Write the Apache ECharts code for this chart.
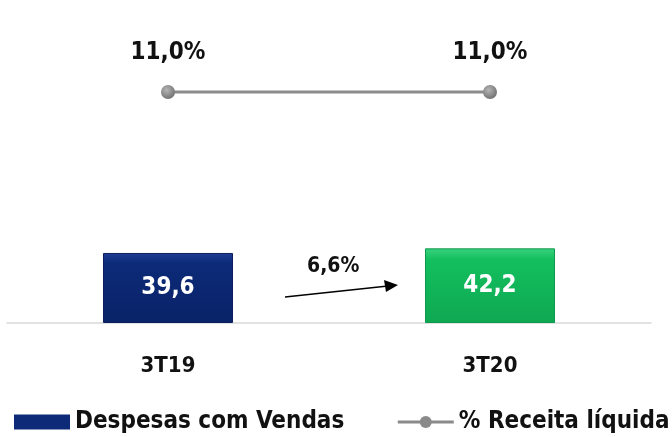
<!DOCTYPE html>
<html>
<head>
<meta charset="utf-8">
<script src="https://cdn.jsdelivr.net/npm/echarts@6/dist/echarts.min.js"></script>
<style>
    html, body { margin: 0; padding: 0; background: #fff; }
    #chart { width: 672px; height: 437px; }
</style>
</head>
<body>
<div id="chart"></div>
<script>
var categories = ['3T19', '3T20'];
var despesas = [39.6, 42.2];
var receitaPct = [11.0, 11.0];
var growthLabel = '6,6%';

(function () {
    'use strict';
    var myChart = echarts.init(document.getElementById('chart'));
    var font = '"DejaVu Sans Condensed", "DejaVu Sans", sans-serif';

    function fmt(v, suffix) {
        return v.toFixed(1).replace('.', ',') + (suffix || '');
    }

    var barColors = [
        new echarts.graphic.LinearGradient(0, 0, 0, 1, [
            { offset: 0, color: '#1d3c94' },
            { offset: 0.15, color: '#0c2a78' },
            { offset: 1, color: '#0a2368' }
        ]),
        new echarts.graphic.LinearGradient(0, 0, 0, 1, [
            { offset: 0, color: '#3ad27e' },
            { offset: 0.15, color: '#13bf5e' },
            { offset: 1, color: '#0fa852' }
        ])
    ];
    var barBorders = ['#0a1f5c', '#0d9a4a'];

    var option = {
        animation: false,
        grid: { left: 7, right: 21, top: 40, bottom: 114 },
        legend: {
            bottom: 3,
            left: 14,
            width: 720,
            padding: 0,
            itemGap: 52,
            itemWidth: 56,
            itemHeight: 15,
            textStyle: { fontFamily: font, fontSize: 24, fontWeight: 700, color: '#111' },
            data: [
                { name: 'Despesas com Vendas', icon: 'rect', itemStyle: { color: '#0c2a78' } },
                { name: '% Receita líquida', itemStyle: { color: '#8a8a8a' }, lineStyle: { color: '#8a8a8a', width: 3 } }
            ]
        },
        xAxis: {
            type: 'category',
            data: categories,
            axisTick: { show: false },
            axisLine: { lineStyle: { color: '#d9d9d9', width: 1.5 } },
            axisLabel: { margin: 32, fontFamily: font, fontSize: 22, fontWeight: 700, color: '#111' }
        },
        yAxis: [
            { type: 'value', min: 0, max: 160, show: false },
            { type: 'value', min: 0, max: 13.48, show: false }
        ],
        series: [{
            name: 'Despesas com Vendas',
            type: 'bar',
            barWidth: 130,
            data: despesas.map(function (v, i) {
                return { value: v, itemStyle: { color: barColors[i], borderColor: barBorders[i], borderWidth: 1 } };
            }),
            label: {
                show: true,
                position: 'inside',
                fontFamily: font,
                fontSize: 24,
                fontWeight: 700,
                color: '#fff',
                formatter: function (p) { return fmt(p.value); }
            }
        }, {
            name: '% Receita líquida',
            type: 'line',
            yAxisIndex: 1,
            data: receitaPct,
            symbol: 'circle',
            symbolSize: 14,
            lineStyle: { color: '#8c8c8c', width: 3 },
            itemStyle: {
                color: new echarts.graphic.RadialGradient(0.4, 0.35, 0.7, [
                    { offset: 0, color: '#b5b5b5' },
                    { offset: 1, color: '#6e6e6e' }
                ])
            },
            label: {
                show: true,
                position: 'top',
                distance: 20,
                fontFamily: font,
                fontSize: 24,
                fontWeight: 700,
                color: '#111',
                formatter: function (p) { return fmt(p.value, '%'); }
            }
        }],
        graphic: [{
            type: 'line',
            shape: { x1: 285, y1: 297, x2: 388, y2: 286 },
            style: { stroke: '#000', lineWidth: 1.5 }
        }, {
            type: 'polygon',
            shape: { points: [[398, 285], [384, 280], [386, 292]] },
            style: { fill: '#000' }
        }, {
            type: 'text',
            left: 307,
            top: 256,
            style: { text: growthLabel, font: '700 21px "DejaVu Sans Condensed", "DejaVu Sans", sans-serif', fill: '#111' }
        }]
    };
    myChart.setOption(option);
    window.addEventListener('resize', function () {
        myChart.resize();
    });
})();
</script>
</body>
</html>
